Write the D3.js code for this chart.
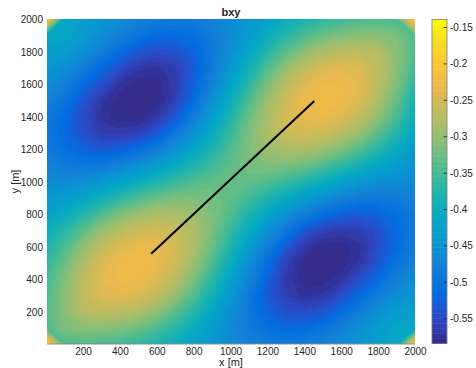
<!DOCTYPE html>
<html>
<head>
<meta charset="utf-8">
<script src="https://cdn.jsdelivr.net/npm/d3@7"></script>
<style>
    body { margin: 0; background: #fff; }
    text { font-family: "Liberation Sans", Arial, Helvetica, sans-serif; fill: #262626; }
</style>
</head>
<body>
<div id="chart"></div>
<script>
// grid node positions [m]
const gridX = [0, 100, 200, 300, 400, 500, 600, 700, 800, 900, 1000, 1100, 1200, 1300, 1400, 1500, 1600, 1700, 1800, 1900, 2000];
const gridY = [0, 100, 200, 300, 400, 500, 600, 700, 800, 900, 1000, 1100, 1200, 1300, 1400, 1500, 1600, 1700, 1800, 1900, 2000];

// bxy, one row per gridY value (bottom row first)
const bxy = [
    [-0.150, -0.345, -0.343, -0.346, -0.354, -0.365, -0.381, -0.400, -0.422, -0.443, -0.462, -0.477, -0.487, -0.489, -0.485, -0.475, -0.460, -0.445, -0.430, -0.415, -0.170],
    [-0.345, -0.314, -0.306, -0.306, -0.312, -0.325, -0.345, -0.371, -0.402, -0.433, -0.463, -0.487, -0.508, -0.516, -0.514, -0.499, -0.480, -0.459, -0.436, -0.414, -0.415],
    [-0.343, -0.306, -0.273, -0.267, -0.270, -0.281, -0.303, -0.335, -0.373, -0.415, -0.456, -0.492, -0.523, -0.543, -0.547, -0.537, -0.513, -0.483, -0.454, -0.436, -0.430],
    [-0.346, -0.306, -0.267, -0.241, -0.237, -0.244, -0.265, -0.298, -0.342, -0.391, -0.441, -0.487, -0.533, -0.562, -0.573, -0.568, -0.545, -0.515, -0.483, -0.459, -0.445],
    [-0.354, -0.312, -0.270, -0.237, -0.227, -0.227, -0.242, -0.272, -0.315, -0.367, -0.422, -0.474, -0.524, -0.565, -0.582, -0.582, -0.572, -0.545, -0.513, -0.480, -0.460],
    [-0.365, -0.325, -0.281, -0.244, -0.227, -0.220, -0.229, -0.254, -0.294, -0.344, -0.400, -0.456, -0.510, -0.558, -0.582, -0.586, -0.582, -0.568, -0.537, -0.499, -0.475],
    [-0.381, -0.345, -0.303, -0.265, -0.242, -0.229, -0.231, -0.249, -0.282, -0.326, -0.378, -0.432, -0.483, -0.534, -0.568, -0.582, -0.582, -0.573, -0.547, -0.514, -0.485],
    [-0.400, -0.371, -0.335, -0.298, -0.272, -0.254, -0.249, -0.258, -0.281, -0.316, -0.359, -0.406, -0.453, -0.494, -0.534, -0.558, -0.565, -0.562, -0.543, -0.516, -0.489],
    [-0.422, -0.402, -0.373, -0.342, -0.315, -0.294, -0.282, -0.281, -0.292, -0.313, -0.343, -0.379, -0.417, -0.453, -0.483, -0.510, -0.524, -0.533, -0.523, -0.508, -0.487],
    [-0.443, -0.433, -0.415, -0.391, -0.367, -0.344, -0.326, -0.316, -0.313, -0.319, -0.333, -0.354, -0.379, -0.406, -0.432, -0.456, -0.474, -0.487, -0.492, -0.487, -0.477],
    [-0.462, -0.463, -0.456, -0.441, -0.422, -0.400, -0.378, -0.359, -0.343, -0.333, -0.330, -0.333, -0.343, -0.359, -0.378, -0.400, -0.422, -0.441, -0.456, -0.463, -0.462],
    [-0.477, -0.487, -0.492, -0.487, -0.474, -0.456, -0.432, -0.406, -0.379, -0.354, -0.333, -0.319, -0.313, -0.316, -0.326, -0.344, -0.367, -0.391, -0.415, -0.433, -0.450],
    [-0.487, -0.508, -0.523, -0.533, -0.524, -0.510, -0.483, -0.453, -0.417, -0.379, -0.343, -0.313, -0.292, -0.281, -0.282, -0.294, -0.315, -0.342, -0.373, -0.405, -0.438],
    [-0.489, -0.516, -0.543, -0.562, -0.565, -0.558, -0.534, -0.494, -0.453, -0.406, -0.359, -0.316, -0.281, -0.258, -0.249, -0.254, -0.272, -0.298, -0.335, -0.374, -0.418],
    [-0.485, -0.514, -0.547, -0.573, -0.582, -0.582, -0.568, -0.534, -0.483, -0.432, -0.378, -0.326, -0.282, -0.249, -0.231, -0.229, -0.242, -0.265, -0.303, -0.348, -0.398],
    [-0.475, -0.499, -0.537, -0.568, -0.582, -0.586, -0.582, -0.558, -0.510, -0.456, -0.400, -0.344, -0.294, -0.254, -0.229, -0.220, -0.227, -0.244, -0.281, -0.328, -0.385],
    [-0.460, -0.480, -0.513, -0.545, -0.572, -0.582, -0.582, -0.565, -0.524, -0.474, -0.422, -0.367, -0.315, -0.272, -0.242, -0.227, -0.227, -0.237, -0.270, -0.314, -0.368],
    [-0.445, -0.459, -0.483, -0.515, -0.545, -0.568, -0.573, -0.562, -0.533, -0.487, -0.441, -0.391, -0.342, -0.298, -0.265, -0.244, -0.237, -0.241, -0.267, -0.307, -0.352],
    [-0.430, -0.436, -0.454, -0.483, -0.513, -0.537, -0.547, -0.543, -0.523, -0.492, -0.456, -0.415, -0.373, -0.335, -0.303, -0.281, -0.270, -0.267, -0.273, -0.306, -0.343],
    [-0.415, -0.414, -0.436, -0.459, -0.480, -0.499, -0.514, -0.516, -0.508, -0.487, -0.463, -0.433, -0.402, -0.371, -0.345, -0.325, -0.312, -0.306, -0.306, -0.314, -0.345],
    [-0.170, -0.415, -0.430, -0.445, -0.460, -0.475, -0.485, -0.489, -0.487, -0.477, -0.462, -0.443, -0.422, -0.400, -0.381, -0.365, -0.354, -0.346, -0.343, -0.345, -0.180]
];

// colour limits shown on the colorbar
const colorLimits = [-0.584, -0.139];

// profile line drawn on top [m]
const lineX = [570, 1454];
const lineY = [557, 1498];

const xTicks = [200, 400, 600, 800, 1000, 1200, 1400, 1600, 1800, 2000];
const yTicks = [200, 400, 600, 800, 1000, 1200, 1400, 1600, 1800, 2000];
const cbTicks = [-0.55, -0.5, -0.45, -0.4, -0.35, -0.3, -0.25, -0.2, -0.15];

// parula, sampled
const parula = ["#352a87", "#2c4ac7", "#046de0", "#1480d6", "#0998d1", "#07a9c2", "#25b5a9",
    "#59bd8c", "#92bf73", "#c0bc60", "#e9b94e", "#fec832", "#f5e41d", "#f9fb0e"];
const parulaPos = [0, 5, 10, 15, 20, 25, 30, 35, 40, 45, 50, 55, 60, 63];

const width = 476, height = 368;
const box = { left: 47, right: 415, top: 19.5, bottom: 343.5 };
const cbar = { left: 432, right: 447 };
const nLevels = 64;

const svg = d3.select("#chart").append("svg")
    .attr("width", width)
    .attr("height", height);

const x = d3.scaleLinear().domain([5, 2000]).range([box.left, box.right]);
const y = d3.scaleLinear().domain([5, 2000]).range([box.bottom, box.top]);

const values = bxy.flat();
const lo = colorLimits[0], hi = colorLimits[1];

const color = d3.scaleLinear()
    .domain(parulaPos.map(p => lo + (hi - lo) * p / 63))
    .range(parula)
    .interpolate(d3.interpolateRgb)
    .clamp(true);

const step = (hi - lo) / nLevels;
const levels = d3.range(nLevels).map(k => lo + k * step);
// first level catches anything below the lower limit
const cLevels = [d3.min(values) - 1].concat(levels.slice(1));

const contours = d3.contours()
    .size([gridX.length, gridY.length])
    .thresholds(cLevels)(values);

const dxg = gridX[1] - gridX[0], dyg = gridY[1] - gridY[0];
const proj = d3.geoTransform({
    point: function (cx, cy) {
        this.stream.point(x(gridX[0] + (cx - 0.5) * dxg), y(gridY[0] + (cy - 0.5) * dyg));
    }
});
const path = d3.geoPath(proj);

svg.append("clipPath").attr("id", "clip")
    .append("rect")
    .attr("x", box.left).attr("y", box.top)
    .attr("width", box.right - box.left).attr("height", box.bottom - box.top);

const field = svg.append("g").attr("clip-path", "url(#clip)");

field.selectAll("path.band")
    .data(contours)
    .enter()
    .append("path")
    .attr("class", "band")
    .attr("d", path)
    .attr("fill", (d, i) => color(levels[i] + step / 2))
    .attr("stroke", (d, i) => color(levels[i] + step / 2))
    .attr("stroke-width", 0.4);

field.append("line")
    .attr("x1", x(lineX[0])).attr("y1", y(lineY[0]))
    .attr("x2", x(lineX[1])).attr("y2", y(lineY[1]))
    .attr("stroke", "#000")
    .attr("stroke-width", 2);

// axes (ticks sit under the surface, only labels show)
const fmt = d3.format("d");
const xAxis = svg.append("g")
    .attr("transform", "translate(0," + box.bottom + ")")
    .call(d3.axisBottom(x).tickValues(xTicks).tickFormat(fmt).tickSize(0).tickPadding(4));
xAxis.select(".domain").remove();

const yAxis = svg.append("g")
    .attr("transform", "translate(" + box.left + ",0)")
    .call(d3.axisLeft(y).tickValues(yTicks).tickFormat(fmt).tickSize(0).tickPadding(4));
yAxis.select(".domain").remove();

svg.selectAll(".tick text")
    .attr("font-size", 10)
    .attr("font-family", "Liberation Sans, Arial, sans-serif")
    .attr("fill", "#262626");

svg.append("line")
    .attr("x1", box.left).attr("x2", box.right)
    .attr("y1", box.bottom + 0.5).attr("y2", box.bottom + 0.5)
    .attr("stroke", "#8c8c8c")
    .attr("stroke-width", 1);

svg.append("text")
    .attr("x", (box.left + box.right) / 2)
    .attr("y", 16)
    .attr("text-anchor", "middle")
    .attr("font-size", 11)
    .attr("font-weight", "bold")
    .text("bxy");

svg.append("text")
    .attr("x", (box.left + box.right) / 2)
    .attr("y", 366)
    .attr("text-anchor", "middle")
    .attr("font-size", 11)
    .text("x [m]");

svg.append("text")
    .attr("transform", "translate(19," + (box.top + box.bottom) / 2 + ") rotate(-90)")
    .attr("text-anchor", "middle")
    .attr("font-size", 11)
    .text("y [m]");

// colorbar
const cy = d3.scaleLinear().domain(colorLimits).range([box.bottom, box.top]);
const cb = svg.append("g");

cb.selectAll("rect.cbin")
    .data(levels)
    .enter()
    .append("rect")
    .attr("class", "cbin")
    .attr("x", cbar.left)
    .attr("width", cbar.right - cbar.left)
    .attr("y", d => cy(d + step))
    .attr("height", d => cy(d) - cy(d + step) + 0.5)
    .attr("fill", d => color(d + step / 2));

cb.append("rect")
    .attr("x", cbar.left).attr("y", box.top)
    .attr("width", cbar.right - cbar.left).attr("height", box.bottom - box.top)
    .attr("fill", "none")
    .attr("stroke", "#7a7a7a")
    .attr("stroke-width", 0.8);

cb.selectAll("line.cbtick")
    .data(cbTicks)
    .enter()
    .append("line")
    .attr("class", "cbtick")
    .attr("x1", cbar.right - 3.5).attr("x2", cbar.right)
    .attr("y1", d => cy(d)).attr("y2", d => cy(d))
    .attr("stroke", "#262626")
    .attr("stroke-width", 0.8);

cb.selectAll("text.cblab")
    .data(cbTicks)
    .enter()
    .append("text")
    .attr("class", "cblab")
    .attr("x", cbar.right + 3)
    .attr("y", d => cy(d))
    .attr("dy", "0.35em")
    .attr("font-size", 10)
    .text(d => String(d));
</script>
</body>
</html>
